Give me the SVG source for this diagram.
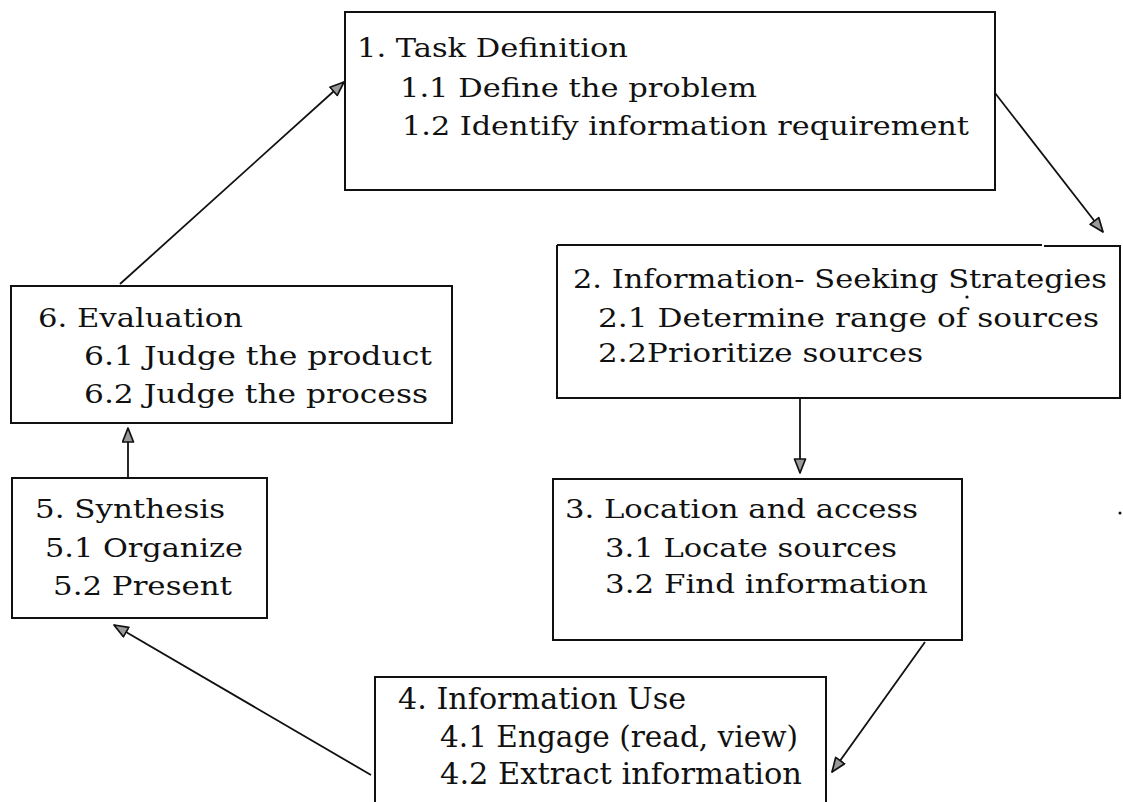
<svg xmlns="http://www.w3.org/2000/svg" width="1123" height="802" viewBox="0 0 1123 802">
  <style>
    .box { fill: #ffffff; stroke: #111111; stroke-width: 2; }
    .edge { fill: none; stroke: #111111; stroke-width: 2; }
    .lbl { font-family: "DejaVu Serif", "Liberation Serif", serif; font-size: 26px; fill: #111111; }
    .lbl-tall { font-size: 29px; }
    .conn { fill: none; stroke: #111111; stroke-width: 1.8; marker-end: url(#head); }
  </style>
  <defs>
    <marker id="head" markerUnits="userSpaceOnUse" markerWidth="17" markerHeight="14" refX="15" refY="6.5" orient="auto">
      <path d="M1,1 L15,6.5 L1,12 Z" fill="#9a9a9a" stroke="#111111" stroke-width="1.7" stroke-linejoin="round"/>
    </marker>
  </defs>
  <rect width="1123" height="802" fill="#ffffff"/>

  <!-- connectors -->
  <g id="connectors">
    <line class="conn" x1="120" y1="284" x2="344" y2="82"/>
    <line class="conn" x1="995" y1="93" x2="1103" y2="232"/>
    <line class="conn" x1="800" y1="399" x2="800" y2="473"/>
    <line class="conn" x1="925" y1="642" x2="832" y2="772"/>
    <line class="conn" x1="371" y1="775" x2="114" y2="625"/>
    <line class="conn" x1="128" y1="477" x2="128" y2="428"/>
  </g>

  <!-- 1. Task Definition -->
  <g id="task-definition">
    <rect class="box" x="345" y="12" width="650" height="178"/>
    <text class="lbl" x="357" y="57" textLength="271" lengthAdjust="spacingAndGlyphs">1. Task Definition</text>
    <text class="lbl" x="400" y="97" textLength="357" lengthAdjust="spacingAndGlyphs">1.1 Define the problem</text>
    <text class="lbl" x="402" y="135" textLength="567" lengthAdjust="spacingAndGlyphs">1.2 Identify information requirement</text>
  </g>

  <!-- 2. Information-Seeking Strategies -->
  <g id="seeking-strategies">
    <rect x="557" y="245" width="563" height="153" fill="#ffffff"/>
    <path class="edge" d="M557,245 L1042,245 M1044,246 L1120,246 L1120,398 L557,398 L557,245"/>
    <text class="lbl" x="573" y="288" textLength="534" lengthAdjust="spacingAndGlyphs">2. Information- Seeking Strategies</text>
    <text class="lbl" x="598" y="327" textLength="501" lengthAdjust="spacingAndGlyphs">2.1 Determine range of sources</text>
    <text class="lbl" x="598" y="362" textLength="325" lengthAdjust="spacingAndGlyphs">2.2Prioritize sources</text>
    <circle cx="967" cy="297" r="1.6" fill="#111111"/>
  </g>

  <!-- 3. Location and access -->
  <g id="location-access">
    <rect class="box" x="553" y="479" width="409" height="161"/>
    <text class="lbl" x="565" y="518" textLength="353" lengthAdjust="spacingAndGlyphs">3. Location and access</text>
    <text class="lbl" x="605" y="557" textLength="292" lengthAdjust="spacingAndGlyphs">3.1 Locate sources</text>
    <text class="lbl" x="605" y="593" textLength="323" lengthAdjust="spacingAndGlyphs">3.2 Find information</text>
  </g>

  <!-- 4. Information Use (open at the bottom edge) -->
  <g id="information-use">
    <rect x="375" y="677" width="451" height="130" fill="#ffffff"/>
    <path class="edge" d="M375,806 L375,677 L826,677 L826,806"/>
    <text class="lbl lbl-tall" x="398" y="709" textLength="288" lengthAdjust="spacingAndGlyphs">4. Information Use</text>
    <text class="lbl lbl-tall" x="440" y="747" textLength="358" lengthAdjust="spacingAndGlyphs">4.1 Engage (read, view)</text>
    <text class="lbl lbl-tall" x="440" y="784" textLength="362" lengthAdjust="spacingAndGlyphs">4.2 Extract information</text>
  </g>

  <!-- 5. Synthesis -->
  <g id="synthesis">
    <rect class="box" x="12" y="478" width="255" height="140"/>
    <text class="lbl" x="35" y="518" textLength="190" lengthAdjust="spacingAndGlyphs">5. Synthesis</text>
    <text class="lbl" x="45" y="557" textLength="198" lengthAdjust="spacingAndGlyphs">5.1 Organize</text>
    <text class="lbl" x="53" y="595" textLength="179" lengthAdjust="spacingAndGlyphs">5.2 Present</text>
  </g>

  <!-- 6. Evaluation -->
  <g id="evaluation">
    <rect class="box" x="11" y="286" width="441" height="137"/>
    <text class="lbl" x="38" y="327" textLength="205" lengthAdjust="spacingAndGlyphs">6. Evaluation</text>
    <text class="lbl" x="84" y="365" textLength="348" lengthAdjust="spacingAndGlyphs">6.1 Judge the product</text>
    <text class="lbl" x="84" y="403" textLength="344" lengthAdjust="spacingAndGlyphs">6.2 Judge the process</text>
  </g>

  <circle cx="1120" cy="513" r="1.5" fill="#111111"/>
</svg>
